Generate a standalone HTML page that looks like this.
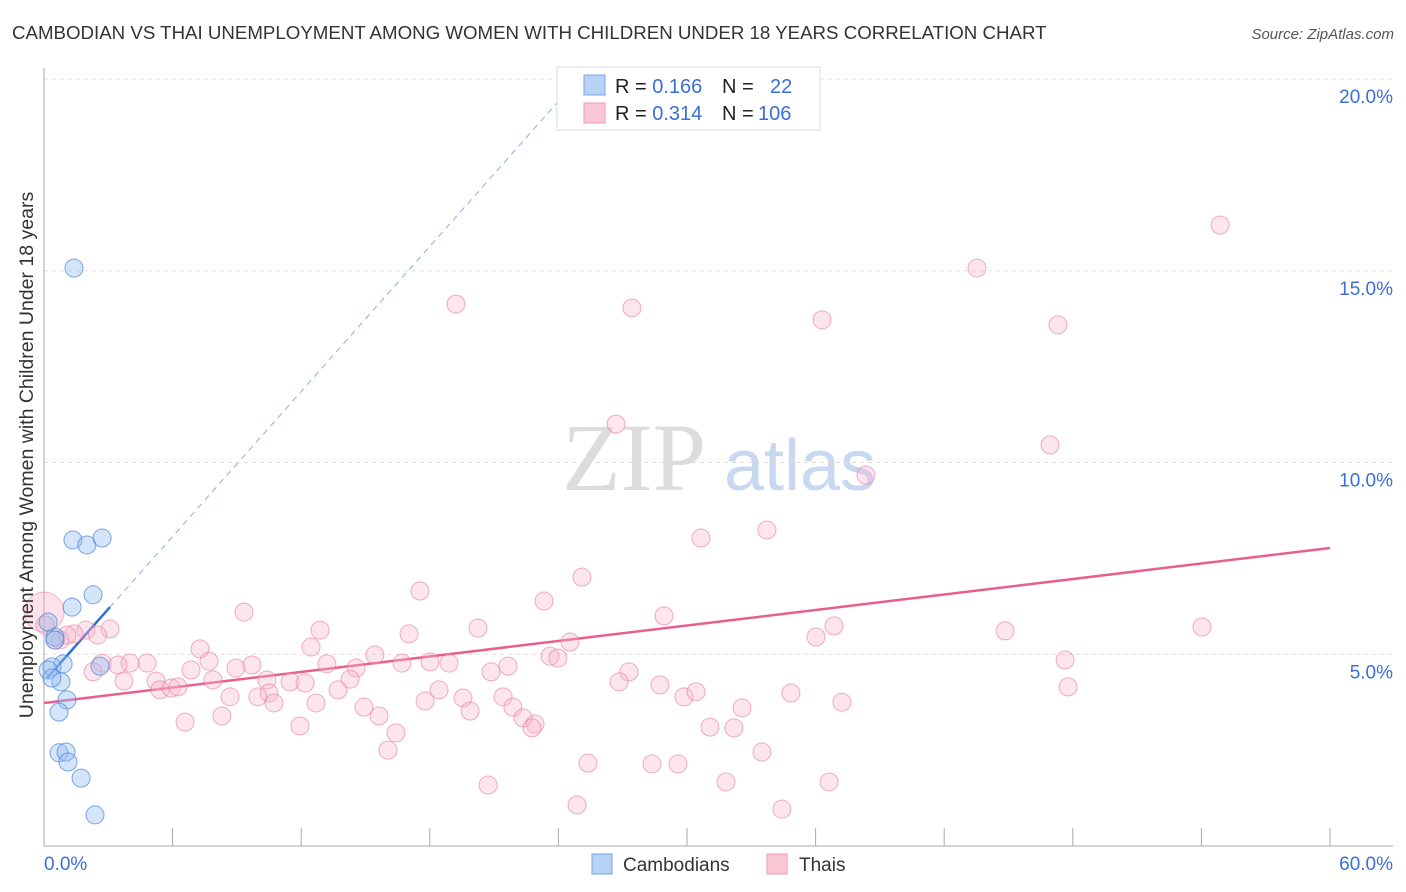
<!DOCTYPE html>
<html><head><meta charset="utf-8"><style>
body{margin:0;background:#fff;font-family:"Liberation Sans",sans-serif;}
svg{display:block}
</style></head><body>
<svg id="chart" width="1406" height="892" xmlns="http://www.w3.org/2000/svg">
<text x="12" y="39" font-size="18.7" fill="#333">CAMBODIAN VS THAI UNEMPLOYMENT AMONG WOMEN WITH CHILDREN UNDER 18 YEARS CORRELATION CHART</text>
<text x="1394" y="39" font-size="15" font-style="italic" fill="#555" text-anchor="end">Source: ZipAtlas.com</text>
<text x="634" y="490" font-size="96" font-family="Liberation Serif,serif" fill="#dcdcdc" text-anchor="middle">ZIP</text>
<text x="800" y="490" font-size="72" fill="#c8d8f0" text-anchor="middle">atlas</text>
<g id="grid"></g>
<g id="axes"></g>
<g id="lines"></g>
<g id="pts"></g>
<text transform="translate(33,455) rotate(-90)" font-size="19.5" fill="#333" text-anchor="middle">Unemployment Among Women with Children Under 18 years</text>
<g>
<rect x="557" y="67" width="263" height="63" fill="#fff" stroke="#ddd"/>
<rect x="584" y="75" width="21" height="20" fill="#b8d2f5" stroke="#7aa6e6"/>
<rect x="584" y="103" width="21" height="20" fill="#f9c6d6" stroke="#ee9ab6"/>
<text x="615" y="93" font-size="20" fill="#222">R = <tspan fill="#3a6fd8">0.166</tspan><tspan x="722">N =</tspan><tspan x="770" fill="#3a6fd8">22</tspan></text>
<text x="615" y="120" font-size="20" fill="#222">R = <tspan fill="#3a6fd8">0.314</tspan><tspan x="722">N =</tspan><tspan x="758" fill="#3a6fd8">106</tspan></text>
</g>
<g>
<rect x="592" y="854" width="20" height="20" fill="#b8d2f5" stroke="#7aa6e6"/>
<text x="623" y="871" font-size="19" fill="#333">Cambodians</text>
<rect x="767" y="854" width="20" height="20" fill="#f9c6d6" stroke="#ee9ab6"/>
<text x="799" y="871" font-size="19" fill="#333">Thais</text>
</g>
</svg>
<script>
const camX=[1.40,1.35,2.0,2.71,2.29,1.31,0.51,0.19,0.89,0.37,0.79,2.61,1.07,0.70,0.70,1.03,1.12,1.73,2.38,0.19,0.51,0.37];
const camY=[15.07,7.98,7.85,8.03,6.55,6.23,5.45,5.84,4.75,4.67,4.28,4.69,3.81,3.49,2.43,2.45,2.19,1.77,0.81,4.59,5.37,4.38];
const thaiX=[54.87,43.53,19.22,27.43,36.30,47.31,26.69,46.94,38.35,33.73,30.65,25.10,17.54,23.33,9.33,28.93,12.88,20.25,36.86,44.84,54.03,17.03,24.54,36.02,3.08,1.96,1.40,0.75,7.28,12.46,23.61,23.98,15.44,47.64,4.81,4.01,2.71,3.45,7.70,9.70,13.20,16.70,18.01,18.90,2.29,6.86,8.96,14.56,20.86,21.65,27.29,3.73,5.23,7.88,10.40,11.48,12.18,14.28,26.83,28.74,47.78,5.41,5.93,6.25,10.50,13.72,18.43,8.68,9.98,19.55,21.42,29.86,30.42,34.85,37.23,12.69,10.73,17.78,14.93,21.88,32.57,8.30,6.58,15.63,19.88,22.35,22.91,22.77,11.94,16.42,31.07,32.19,16.05,33.50,25.38,28.37,29.58,20.72,31.82,36.63,24.87,34.43,0.05,0.51,1.07,2.5];
const thaiY=[16.19,15.07,14.13,14.03,13.72,13.59,11.00,10.46,9.67,8.24,8.03,7.01,6.65,6.39,6.10,6.00,5.63,5.68,5.74,5.61,5.71,5.53,5.32,5.45,5.66,5.63,5.53,5.37,5.14,5.19,4.95,4.90,4.98,4.85,4.77,4.77,4.77,4.72,4.82,4.72,4.75,4.77,4.80,4.77,4.54,4.59,4.64,4.64,4.54,4.69,4.54,4.30,4.30,4.33,4.33,4.28,4.25,4.35,4.28,4.20,4.15,4.07,4.12,4.15,3.99,4.07,4.07,3.89,3.89,3.86,3.89,3.89,4.02,3.99,3.75,3.73,3.73,3.78,3.62,3.62,3.60,3.39,3.23,3.39,3.52,3.34,3.18,3.08,3.13,2.95,3.10,3.08,2.50,2.45,2.16,2.14,2.14,1.59,1.67,1.67,1.07,0.96,5.76,5.37,5.50,5.5];
const yTicks=[5,10,15,20];
const thaiBigX=0, thaiBigY=6.10;
const camFit=[0.14,4.38,3.08,6.23,25.4,20.3];
const thaiFit=[0,3.73,60,7.77];
const NS='http://www.w3.org/2000/svg';
const X=v=>44+v/60*1286, Y=v=>846-v*38.35;
function mk(t,a,p){const e=document.createElementNS(NS,t);for(const k in a)e.setAttribute(k,a[k]);document.getElementById(p).appendChild(e);return e;}
yTicks.forEach(t=>{
 const g=mk('line',{x1:44,x2:1393,y1:Y(t),y2:Y(t),stroke:'#ddd','stroke-dasharray':'4,4'},'grid');
 
 
 const l=mk('text',{x:1393,y:Y(t)+24,'font-size':19,fill:'#3a6fd8','text-anchor':'end'},'axes');l.textContent=t.toFixed(1)+'%';
 
 
});
mk('line',{x1:44,x2:44,y1:68,y2:846,stroke:'#aaa'},'axes');
mk('line',{x1:44,x2:1393,y1:846,y2:846,stroke:'#aaa'},'axes');
for(let i=0;i<=10;i++){mk('line',{x1:X(i*6),x2:X(i*6),y1:828,y2:846,stroke:'#aaa'},'axes');}
const x0=mk('text',{x:44,y:870,'font-size':19,fill:'#3a6fd8'},'axes');x0.textContent='0.0%';


const x1=mk('text',{x:1393,y:870,'font-size':19,fill:'#3a6fd8','text-anchor':'end'},'axes');x1.textContent='60.0%';


let ln=mk('line',{x1:X(thaiFit[0]),y1:Y(thaiFit[1]),x2:X(thaiFit[2]),y2:Y(thaiFit[3]),stroke:'#e8608a','stroke-width':2.5},'lines');


ln=mk('line',{x1:X(camFit[2]),y1:Y(camFit[3]),x2:X(camFit[4]),y2:Y(camFit[5]),stroke:'#8aaee0','stroke-width':1,'stroke-dasharray':'6,5'},'lines');


const big=mk('circle',{cx:X(thaiBigX),cy:Y(thaiBigY),r:20,fill:'rgba(244,160,188,0.3)',stroke:'rgba(232,120,160,0.5)'},'pts');


thaiX.forEach((x,i)=>{const c=mk('circle',{cx:X(x),cy:Y(thaiY[i]),r:9,fill:'rgba(246,180,202,0.35)',stroke:'rgba(232,120,160,0.6)','stroke-width':1},'pts');
 
 });
camX.forEach((x,i)=>{const c=mk('circle',{cx:X(x),cy:Y(camY[i]),r:9,fill:'rgba(150,190,240,0.4)',stroke:'rgba(70,130,220,0.7)','stroke-width':1},'pts');
 
 });
ln=mk('line',{x1:X(camFit[0]),y1:Y(camFit[1]),x2:X(camFit[2]),y2:Y(camFit[3]),stroke:'#2f6fd6','stroke-width':2.5},'lines');


</script>
</body></html>
